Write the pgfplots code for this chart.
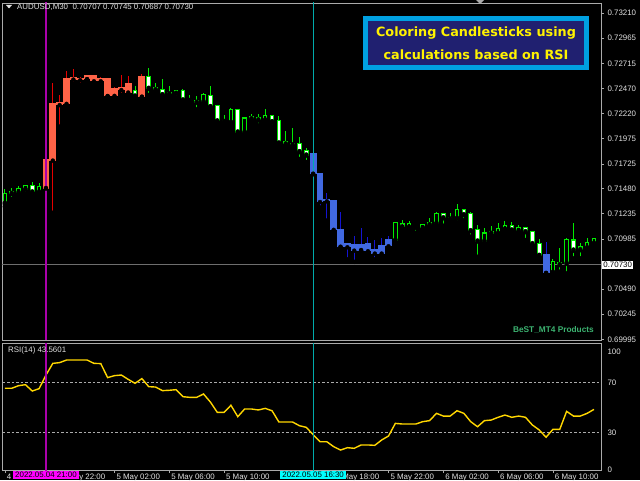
\documentclass[border=0pt]{standalone}
\usepackage{pgfplots}
\pgfplotsset{compat=1.18}
\usepackage{pgfplotstable}
\usepackage{fontspec}
\setmainfont{Liberation Sans}
\newfontfamily\boxfont{DejaVu Sans}
\definecolor{cgreen}{RGB}{0,235,0}
\definecolor{cred}{RGB}{255,99,71}
\definecolor{cwick}{RGB}{230,0,0}
\definecolor{cblue}{RGB}{65,105,225}
\definecolor{cbwick}{RGB}{20,20,210}
\definecolor{cmag}{RGB}{170,0,170}
\definecolor{ccyan}{RGB}{0,170,170}
\definecolor{frame}{RGB}{170,170,170}
\definecolor{txt}{RGB}{225,225,225}
\definecolor{rsiy}{RGB}{255,215,0}
\definecolor{boxblue}{RGB}{0,160,225}
\definecolor{boxfill}{RGB}{32,32,112}
\definecolor{bestg}{RGB}{60,179,113}
\definecolor{pline}{RGB}{110,110,110}

\pgfplotsset{
  ebar/.style 2 args={only marks, mark=none, forget plot,
    error bars/.cd, y dir=plus, y explicit, error mark=none,
    error bar style={line width=#2, draw=#1, line cap=butt}},
}

% x = bar index (30-min bars, 0 = 4 May 22:00); o h l c prices
\pgfplotstableread{
x o h l c
-8 0.71336 0.71474 0.71302 0.71435
-7 0.71433 0.71487 0.71379 0.71448
-6 0.71443 0.71504 0.71398 0.71482
-5 0.71474 0.71510 0.71428 0.71507
-3 0.71448 0.71533 0.71408 0.71497
14 0.72456 0.72520 0.72424 0.72473
17 0.72421 0.72446 0.72378 0.72444
21 0.72338 0.72419 0.72301 0.72404
25 0.72135 0.72273 0.72125 0.72263
27 0.72039 0.72190 0.72032 0.72177
28 0.72170 0.72217 0.72158 0.72187
30 0.72158 0.72263 0.72148 0.72204
49 0.70974 0.71142 0.70942 0.71142
51 0.71100 0.71157 0.71073 0.71132
53 0.71095 0.71129 0.71073 0.71129
54 0.71125 0.71191 0.71086 0.71142
55 0.71139 0.71253 0.71125 0.71240
58 0.71188 0.71326 0.71145 0.71270
62 0.70964 0.71095 0.70925 0.71043
63 0.71040 0.71112 0.71007 0.71056
64 0.71040 0.71139 0.71033 0.71083
65 0.71080 0.71162 0.71080 0.71115
67 0.71066 0.71125 0.71023 0.71099
72 0.70656 0.70787 0.70622 0.70760
74 0.70744 0.70997 0.70646 0.70981
76 0.70878 0.70942 0.70794 0.70905
77 0.70898 0.70991 0.70869 0.70948
78 0.70942 0.70993 0.70908 0.70991
}\gbull

\pgfplotstableread{
x o h l c
-4 0.71507 0.71546 0.71428 0.71448
11 0.72453 0.72493 0.72355 0.72394
13 0.72582 0.72667 0.72404 0.72470
15 0.72460 0.72562 0.72405 0.72407
16 0.72424 0.72493 0.72394 0.72414
18 0.72444 0.72460 0.72330 0.72355
19 0.72360 0.72404 0.72315 0.72350
20 0.72352 0.72394 0.72263 0.72332
22 0.72401 0.72493 0.72289 0.72289
23 0.72299 0.72306 0.72148 0.72148
24 0.72153 0.72207 0.72108 0.72143
26 0.72263 0.72269 0.72032 0.72039
29 0.72184 0.72217 0.72105 0.72158
31 0.72204 0.72206 0.72098 0.72141
32 0.72148 0.72197 0.71916 0.71931
33 0.71941 0.72046 0.71883 0.71921
34 0.71926 0.72076 0.71876 0.71913
35 0.71921 0.71990 0.71773 0.71845
36 0.71852 0.71881 0.71743 0.71812
50 0.71135 0.71168 0.71090 0.71105
52 0.71112 0.71114 0.71046 0.71099
56 0.71240 0.71245 0.71115 0.71193
57 0.71198 0.71240 0.71159 0.71181
59 0.71270 0.71272 0.71171 0.71224
60 0.71231 0.71250 0.71007 0.71066
61 0.71073 0.71122 0.70809 0.70964
66 0.71119 0.71155 0.71070 0.71073
68 0.71095 0.71097 0.70974 0.71056
69 0.71060 0.71062 0.70908 0.70938
70 0.70942 0.70981 0.70819 0.70823
73 0.70757 0.70898 0.70662 0.70731
75 0.70974 0.71145 0.70794 0.70875
}\gbear

\pgfplotstableread{
x o h l c
-2 0.71487 0.71763 0.71487 0.71763
-1 0.71763 0.72525 0.71243 0.72315
0 0.72310 0.72404 0.72092 0.72328
1 0.72322 0.72641 0.72289 0.72569
2 0.72562 0.72658 0.72513 0.72575
3 0.72569 0.72585 0.72503 0.72555
4 0.72565 0.72601 0.72560 0.72592
5 0.72592 0.72595 0.72510 0.72545
6 0.72545 0.72585 0.72500 0.72565
7 0.72562 0.72572 0.72394 0.72397
8 0.72401 0.72480 0.72381 0.72470
9 0.72458 0.72601 0.72404 0.72478
10 0.72513 0.72592 0.72394 0.72434
12 0.72394 0.72606 0.72380 0.72585
}\redc

\pgfplotstableread{
x o h l c
37 0.71827 0.71827 0.71628 0.71628
38 0.71632 0.71632 0.71295 0.71354
39 0.71374 0.71435 0.71166 0.71361
40 0.71367 0.71367 0.71056 0.71080
41 0.71080 0.71253 0.70908 0.70908
42 0.70908 0.70935 0.70784 0.70935
43 0.70930 0.71009 0.70759 0.70875
44 0.70875 0.71097 0.70875 0.70930
45 0.70942 0.70999 0.70843 0.70869
46 0.70875 0.70977 0.70784 0.70846
47 0.70846 0.70994 0.70804 0.70917
48 0.70918 0.71016 0.70895 0.70981
71 0.70826 0.70950 0.70646 0.70656
}\bluec

\pgfplotstableread{
x r
-8 65.5
-7 65.5
-6 67.6
-5 68.4
-4 63.3
-3 65.2
-2 76.2
-1 85.6
0 86.2
1 88.3
2 88.3
3 88.3
4 88.3
5 85.6
6 85.4
7 74.1
8 75.7
9 76.2
10 72.7
11 69.5
12 73.3
13 66.8
14 66.5
15 63.6
16 63.9
17 64.4
18 58.7
19 58.2
20 58.2
21 60.9
22 54.4
23 46.1
24 46.1
25 51.8
26 42.6
27 48.8
28 48.8
29 48.0
30 49.3
31 47.4
32 38.3
33 38.3
34 38.3
35 35.3
36 34.0
37 28.1
38 22.4
39 22.4
40 18.4
41 15.7
42 17.6
43 17.1
44 19.8
45 19.8
46 19.5
47 23.8
48 27.0
49 37.2
50 36.7
51 36.7
52 36.7
53 38.6
54 39.4
55 45.3
56 43.1
57 43.1
58 47.4
59 45.3
60 38.6
61 34.5
62 39.4
63 39.9
64 42.1
65 43.9
66 42.1
67 43.1
68 42.1
69 35.9
70 31.9
71 26.0
72 32.4
73 32.4
74 46.9
75 43.1
76 43.1
77 45.3
78 48.5
}\rsi

\newcommand{\tf}{\fontsize{7.9}{8.5}\selectfont}

\begin{document}
\begin{tikzpicture}
\useasboundingbox (0,0) rectangle (640pt,480pt);
\fill[black] (0,0) rectangle (640pt,480pt);

% ---------------- price panel ----------------
\begin{axis}[
  at={(2pt,140pt)}, anchor=south west,
  scale only axis, width=599pt, height=337pt,
  xmin=-8.42, xmax=79.02, ymin=0.69988, ymax=0.73311,
  axis line style={draw=frame, line width=0.8pt},
  xtick=\empty,
  ytick={0.73210,0.72965,0.72715,0.72470,0.72220,0.71975,0.71725,0.71480,0.71235,0.70985,0.70490,0.70245,0.69995},
  yticklabels={0.73210,0.72965,0.72715,0.72470,0.72220,0.71975,0.71725,0.71480,0.71235,0.70985,0.70490,0.70245,0.69995},
  ytick pos=right, yticklabel pos=right,
  tick align=outside, major tick length=3pt,
  tick style={draw=frame, line width=0.6pt},
  yticklabel style={font=\tf, text=txt, anchor=west, xshift=0pt},
]
\addplot[pline, line width=1.5pt, forget plot] coordinates {(-9,0.70730) (80,0.70730)};

% green candles: wicks (low to high)
\addplot[ebar={cgreen}{1pt}] table[x=x, y=l, y error plus expr={\thisrow{h}-\thisrow{l}}] {\gbull};
\addplot[ebar={cgreen}{1pt}] table[x=x, y=l, y error plus expr={\thisrow{h}-\thisrow{l}}] {\gbear};
% green candles: body outlines
\addplot[ebar={cgreen}{4.6pt}] table[x=x, y expr={min(\thisrow{o},\thisrow{c})-0.00005}, y error plus expr={abs(\thisrow{o}-\thisrow{c})+0.0001}] {\gbull};
\addplot[ebar={cgreen}{4.6pt}] table[x=x, y expr={min(\thisrow{o},\thisrow{c})-0.00005}, y error plus expr={abs(\thisrow{o}-\thisrow{c})+0.0001}] {\gbear};
% body fills: black for rising, white for falling
\addplot[ebar={black}{2.6pt}] table[x=x, y expr={min(\thisrow{o},\thisrow{c})+0.00005}, y error plus expr={max(abs(\thisrow{o}-\thisrow{c})-0.0001,0)}] {\gbull};
\addplot[ebar={white}{2.6pt}] table[x=x, y expr={min(\thisrow{o},\thisrow{c})+0.00005}, y error plus expr={max(abs(\thisrow{o}-\thisrow{c})-0.0001,0)}] {\gbear};

% RSI-coloured candles
\addplot[ebar={cwick}{1pt}] table[x=x, y=l, y error plus expr={\thisrow{h}-\thisrow{l}}] {\redc};
\addplot[ebar={cred}{6.9pt}] table[x=x, y expr={min(\thisrow{o},\thisrow{c})-0.00006}, y error plus expr={abs(\thisrow{o}-\thisrow{c})+0.00012}] {\redc};
\addplot[ebar={cbwick}{1pt}] table[x=x, y=l, y error plus expr={\thisrow{h}-\thisrow{l}}] {\bluec};
\addplot[ebar={cblue}{6.9pt}] table[x=x, y expr={min(\thisrow{o},\thisrow{c})-0.00006}, y error plus expr={abs(\thisrow{o}-\thisrow{c})+0.00012}] {\bluec};

\addplot[cmag, line width=1.2pt, forget plot] coordinates {(-2,0.69) (-2,0.74)};
\addplot[ccyan, line width=1.2pt, forget plot] coordinates {(37,0.69) (37,0.74)};
\coordinate (pricept) at (axis cs:79.02,0.70730);
\end{axis}

% ---------------- RSI panel ----------------
\begin{axis}[
  at={(2pt,10pt)}, anchor=south west,
  scale only axis, width=599pt, height=127pt,
  xmin=-8.42, xmax=79.02, ymin=-0.40, ymax=102.02,
  axis line style={draw=frame, line width=0.8pt},
  xtick={-8,0,8,16,24,40,48,56,64,72},
  xticklabels={4,4 May 22:00,5 May 02:00,5 May 06:00,5 May 10:00,5 May 18:00,5 May 22:00,6 May 02:00,6 May 06:00,6 May 10:00},
  xtick pos=lower,
  ytick={0,30,70}, yticklabels={0,30,70},
  extra y ticks={100}, extra y tick labels={100},
  extra y tick style={yticklabel style={anchor=north west}, y tick style={draw=none}},
  ytick pos=right, yticklabel pos=right,
  tick align=outside, major tick length=3pt,
  tick style={draw=frame, line width=0.6pt},
  y tick style={draw=none},
  yticklabel style={font=\tf, text=txt, anchor=west, xshift=0pt},
  xticklabel style={font=\tf, text=txt, anchor=north west, xshift=-1.5pt, yshift=2.5pt},
]
\addplot[frame, dashed, dash pattern=on 2.5pt off 2pt, line width=0.6pt, forget plot] coordinates {(-9,70) (80,70)};
\addplot[frame, dashed, dash pattern=on 2.5pt off 2pt, line width=0.6pt, forget plot] coordinates {(-9,30) (80,30)};
\addplot[rsiy, line width=1.4pt, forget plot] table[x=x, y=r] {\rsi};
\addplot[cmag, line width=1.2pt, forget plot] coordinates {(-2,-5) (-2,110)};
\addplot[ccyan, line width=1.2pt, forget plot] coordinates {(37,-5) (37,110)};
\coordinate (magbot) at (axis cs:-2,-0.40);
\coordinate (cyanbot) at (axis cs:37,-0.40);
\end{axis}

% ---------------- annotations ----------------
\fill[txt] (6pt,475pt) -- (12pt,475pt) -- (9pt,471.5pt) -- cycle;
\node[anchor=west, text=txt, font=\tf, inner sep=0pt] at (17pt,473pt) {AUDUSD,M30\ \ 0.70707 0.70745 0.70687 0.70730};
\fill[frame] (476pt,480pt) -- (484pt,480pt) -- (480pt,476pt) -- cycle;

\node[draw=boxblue, line width=5pt, fill=boxfill, minimum width=221pt, minimum height=49pt,
      text=yellow, align=center, font=\boxfont\bfseries\fontsize{12.8}{23}\selectfont, inner sep=0pt]
      at (476pt,437pt) {Coloring Candlesticks using\\calculations based on RSI};

\node[anchor=east, text=bestg, font=\bfseries\fontsize{8.3}{9}\selectfont, inner sep=0pt] at (594pt,150pt) {BeST\_MT4 Products};
\node[anchor=west, text=txt, font=\tf, inner sep=0pt] at (8pt,129.5pt) {RSI(14) 43.5601};

\node[anchor=west, fill=white, text=black, font=\tf, inner sep=1.2pt, xshift=1pt] at (pricept) {0.70730};

\node[anchor=north, fill={rgb,255:red,255;green,0;blue,255}, text=black, font=\tf, inner xsep=2pt, inner ysep=1.2pt, yshift=-1pt] at (magbot) {2022.05.04 21:00};
\node[anchor=north, fill={rgb,255:red,0;green,255;blue,255}, text=black, font=\tf, inner xsep=2pt, inner ysep=1.2pt, yshift=-1pt] at (cyanbot) {2022.05.05 16:30};
\end{tikzpicture}
\end{document}
